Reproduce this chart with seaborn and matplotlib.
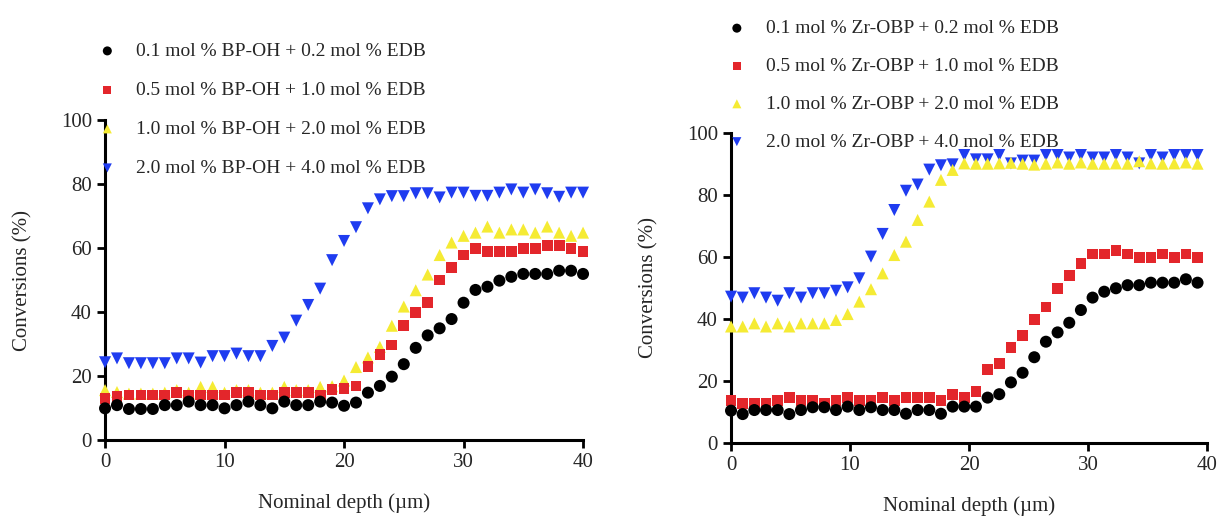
import numpy as np
import pandas as pd
import seaborn as sns
import matplotlib.pyplot as plt

# depth positions (µm)
depth_left = list(range(41))
depth_right = [0, 0.98, 1.96, 2.94, 3.92, 4.9, 5.88, 6.86, 7.84, 8.82, 9.8, 10.78,
               11.76, 12.74, 13.72, 14.7, 15.68, 16.66, 17.64, 18.62, 19.6, 20.58,
               21.56, 22.54, 23.52, 24.5, 25.48, 26.46, 27.44, 28.42, 29.4, 30.38,
               31.36, 32.34, 33.32, 34.3, 35.28, 36.26, 37.24, 38.22, 39.2]

labels_left = [
    "0.1 mol % BP-OH + 0.2 mol % EDB",
    "0.5 mol % BP-OH + 1.0 mol % EDB",
    "1.0 mol % BP-OH + 2.0 mol % EDB",
    "2.0 mol % BP-OH + 4.0 mol % EDB",
]
labels_right = [
    "0.1 mol % Zr-OBP + 0.2 mol % EDB",
    "0.5 mol % Zr-OBP + 1.0 mol % EDB",
    "1.0 mol % Zr-OBP + 2.0 mol % EDB",
    "2.0 mol % Zr-OBP + 4.0 mol % EDB",
]

# conversions (%), BP-OH panel
bp_01 = [9.9, 10.9, 9.7, 9.7, 9.7, 10.9, 10.9, 12.0, 10.9, 10.9, 9.9, 10.9, 12.0, 10.9,
         9.9, 12.0, 10.9, 10.9, 12.0, 11.7, 10.7, 11.7, 14.8, 16.9, 19.8, 23.7, 28.8,
         32.7, 34.9, 37.8, 42.9, 46.9, 47.9, 49.8, 51.0, 51.9, 51.9, 51.9, 52.9, 52.9, 51.9]
bp_05 = [13.0, 13.6, 14.1, 14.1, 14.1, 14.1, 14.8, 14.1, 14.1, 14.1, 14.1, 14.8, 14.8, 14.1,
         14.1, 14.8, 14.8, 14.8, 14.1, 15.8, 16.0, 16.9, 22.9, 26.8, 29.7, 35.7, 39.9,
         42.9, 50.0, 54.0, 57.8, 59.9, 58.9, 58.9, 58.9, 59.9, 59.9, 60.9, 60.9, 59.9, 58.9]
bp_10 = [15.6, 15.0, 14.5, 14.5, 14.5, 14.8, 15.6, 14.8, 16.6, 16.6, 14.8, 15.6, 15.6, 14.8,
         14.8, 16.6, 15.6, 15.6, 16.6, 16.8, 18.6, 22.8, 25.8, 29.1, 35.7, 41.7, 46.8,
         51.7, 57.8, 61.7, 63.8, 64.8, 66.7, 64.8, 65.8, 65.8, 64.8, 66.7, 64.8, 63.8, 64.8]
bp_20 = [24.3, 25.5, 24.0, 24.0, 24.0, 24.0, 25.5, 25.5, 24.2, 26.2, 26.2, 27.0, 26.2, 26.2,
         29.4, 32.0, 37.3, 42.2, 47.3, 56.2, 62.2, 66.5, 72.4, 75.2, 76.2, 76.2, 77.1,
         77.1, 75.8, 77.3, 77.3, 76.3, 76.3, 77.3, 78.3, 77.3, 78.3, 77.1, 76.0, 77.3, 77.3]

# conversions (%), Zr-OBP panel
zr_01 = [10.5, 9.4, 10.7, 10.7, 10.7, 9.4, 10.7, 11.6, 11.6, 10.7, 11.8, 10.7, 11.6, 10.7,
         10.7, 9.5, 10.7, 10.7, 9.5, 11.8, 11.8, 11.8, 14.7, 15.8, 19.6, 22.7, 27.7,
         32.7, 35.7, 38.8, 42.9, 46.9, 48.8, 49.9, 50.9, 50.9, 51.7, 51.7, 51.7, 52.8, 51.7]
zr_05 = [13.7, 12.7, 12.9, 12.9, 13.7, 14.8, 13.7, 13.7, 12.9, 13.7, 14.8, 13.7, 13.7, 14.8,
         13.7, 14.8, 14.8, 14.8, 13.7, 15.8, 14.8, 16.7, 23.8, 25.6, 30.8, 34.6, 39.8,
         43.9, 49.8, 53.9, 57.9, 60.9, 60.9, 62.0, 60.9, 59.9, 59.9, 60.9, 59.9, 60.9, 59.9]
zr_10 = [37.6, 37.6, 38.6, 37.6, 38.6, 37.6, 38.6, 38.6, 38.6, 39.7, 41.6, 45.6, 49.6, 54.7,
         60.6, 64.9, 71.9, 77.8, 84.8, 88.0, 90.1, 90.0, 90.0, 90.1, 90.3, 90.0, 89.7,
         90.0, 90.4, 90.0, 90.4, 90.0, 90.0, 90.1, 90.0, 90.8, 90.1, 90.0, 90.1, 90.4, 90.0]
zr_20 = [47.2, 46.9, 48.3, 46.9, 45.9, 48.3, 46.9, 48.3, 48.3, 49.1, 50.2, 53.1, 60.1, 67.4,
         75.1, 81.3, 83.3, 88.1, 89.5, 89.8, 92.8, 91.4, 91.4, 92.8, 90.1, 91.0, 91.0,
         92.8, 92.8, 92.0, 92.8, 92.0, 92.0, 92.8, 92.0, 90.1, 92.8, 92.0, 92.8, 92.8, 92.8]

colors = ["#000000", "#e3262b", "#f5eb34", "#1f3cf0"]
markers = ["o", "s", "^", "v"]
sizes = [75, 60, 75, 75]

sns.set_style("ticks")
plt.rcParams['font.family'] = ['Liberation Serif', 'DejaVu Serif']

fig = plt.figure(figsize=(12.2, 5.17), dpi=100)
ax1 = fig.add_axes([0.0861, 0.1489, 0.3918, 0.6190])
ax2 = fig.add_axes([0.5992, 0.1426, 0.3902, 0.6008])


def draw_panel(ax, depth, series, labels):
    df = pd.DataFrame({"depth": depth})
    for name, vals in zip(labels, series):
        df[name] = vals
    long = df.melt(id_vars="depth", var_name="mix", value_name="conv")
    # last data set underneath, first on top
    for i in reversed(range(len(labels))):
        sub = long[long["mix"] == labels[i]]
        sns.scatterplot(data=sub, x="depth", y="conv", ax=ax, color=colors[i],
                        marker=markers[i], s=sizes[i], edgecolor="none",
                        linewidth=0, label=labels[i], clip_on=False, zorder=3 + 4 - i)
    ax.set_xlim(0, 40)
    ax.set_ylim(0, 100)
    ax.set_xticks([0, 10, 20, 30, 40])
    ax.set_yticks([0, 20, 40, 60, 80, 100])
    ax.set_xlabel("Nominal depth (µm)", fontsize=15, labelpad=15)
    ax.set_ylabel("Conversions (%)", fontsize=15, labelpad=20)
    ax.tick_params(axis="both", labelsize=15, width=2, length=6, color="black")
    for side in ["left", "bottom"]:
        ax.spines[side].set_linewidth(2.2)
        ax.spines[side].set_color("black")
    sns.despine(ax=ax)


draw_panel(ax1, depth_left, [bp_01, bp_05, bp_10, bp_20], labels_left)
draw_panel(ax2, depth_right, [zr_01, zr_05, zr_10, zr_20], labels_right)

for ax, labels, anchor, spacing in [(ax1, labels_left, (0.080, 0.918), 1.1),
                                    (ax2, labels_right, (0.596, 0.962), 1.04)]:
    handles, labs = ax.get_legend_handles_labels()
    order = [labs.index(l) for l in labels]
    ax.legend([handles[k] for k in order], labels, loc="upper left",
              bbox_to_anchor=anchor, bbox_transform=fig.transFigure,
              frameon=False, fontsize=14, markerscale=0.75, handlelength=1.0,
              handletextpad=1.0, labelspacing=spacing, borderpad=0, borderaxespad=0)

fig.savefig("out.png", dpi=100)
